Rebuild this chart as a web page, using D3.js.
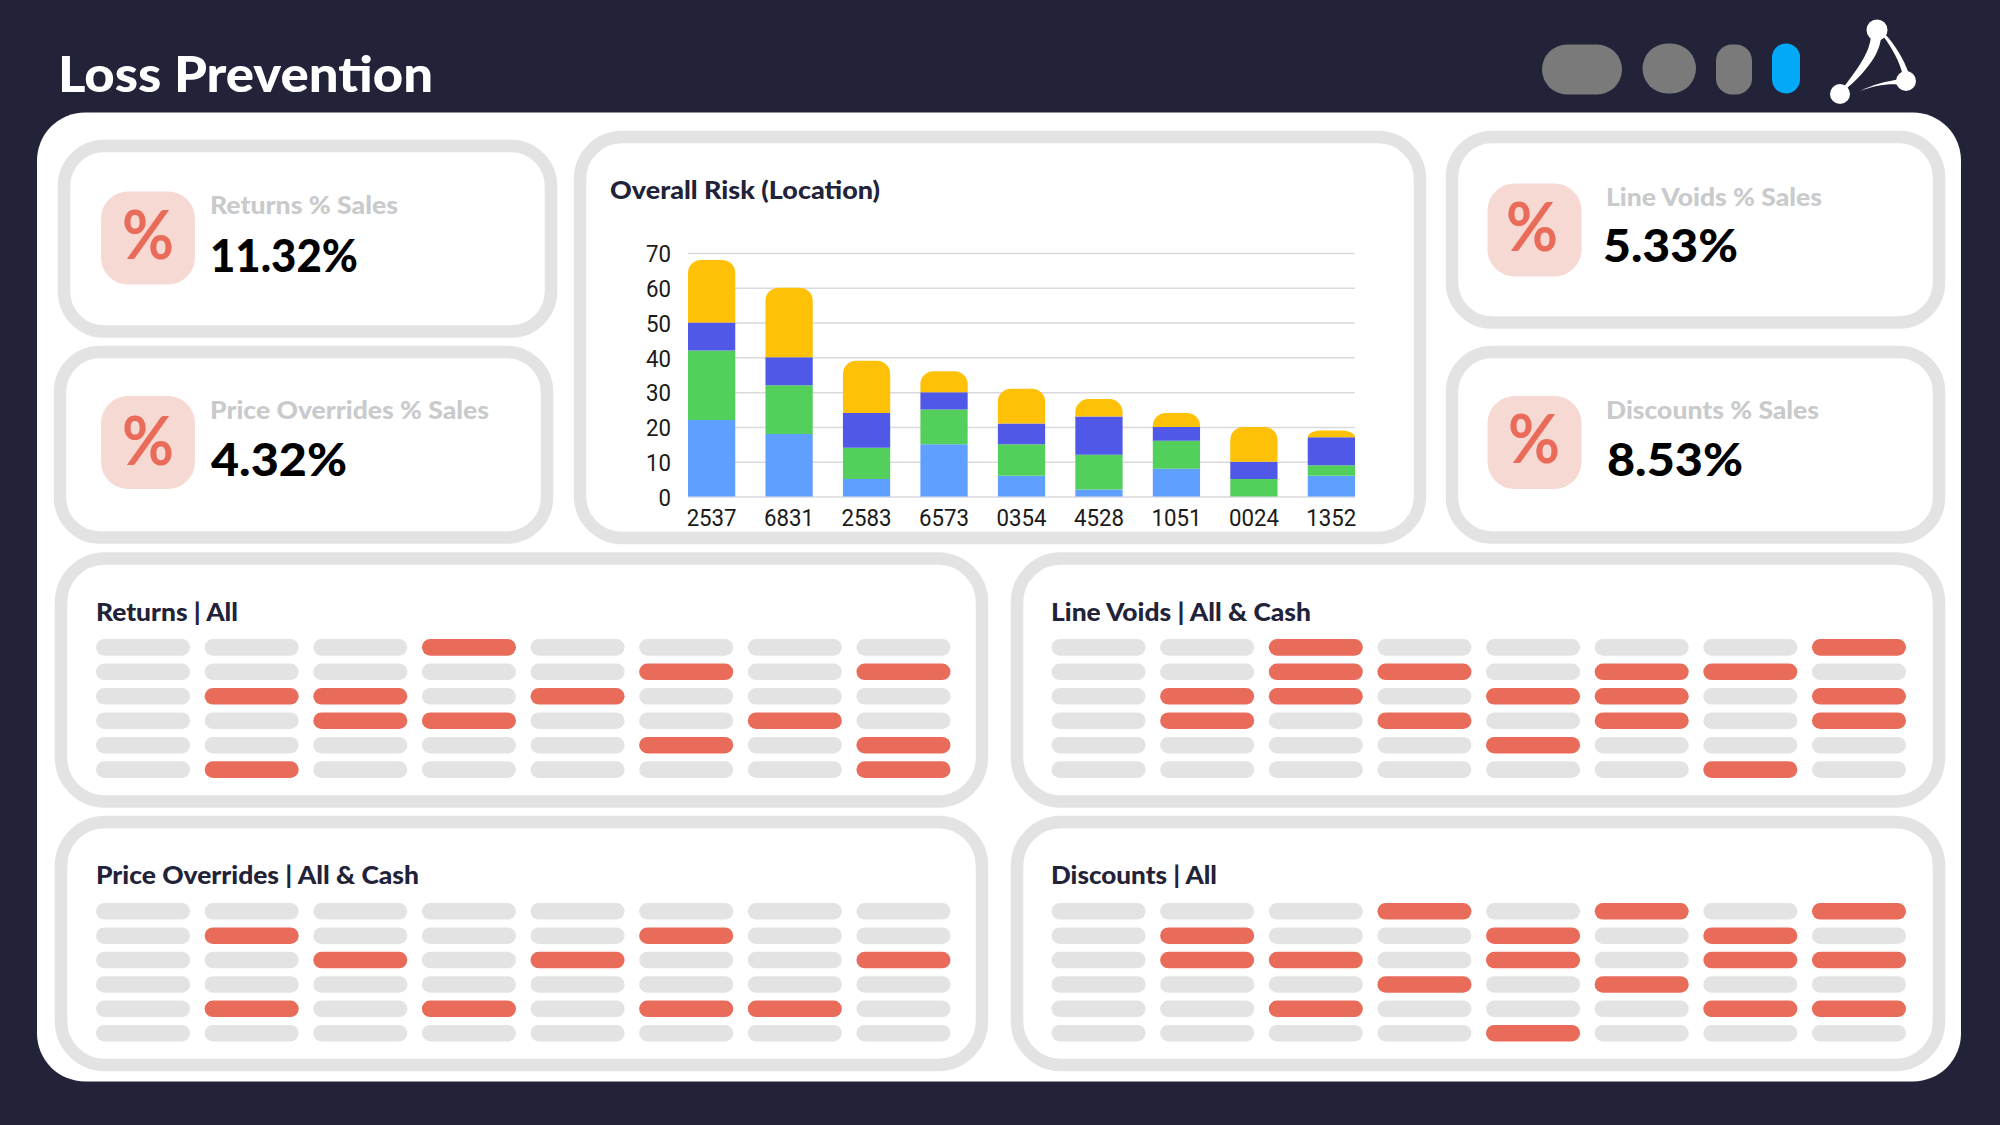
<!DOCTYPE html>
<html>
<head>
<meta charset="utf-8">
<title>Loss Prevention</title>
<style>
  html, body { margin: 0; padding: 0; background: #222238; }
  svg { display: block; }
  .tick text { font-family: "Roboto", sans-serif; font-size: 23.5px; fill: #1a1a1a; }
</style>
</head>
<body>
<svg></svg>
<script src="https://d3js.org/d3.v7.min.js"></script>
<script>
// ---- data ----
var kpiLabels = ["Returns % Sales", "Price Overrides % Sales", "Line Voids % Sales", "Discounts % Sales"];
var kpiValues = ["11.32%", "4.32%", "5.33%", "8.53%"];

var locations = ["2537", "6831", "2583", "6573", "0354", "4528", "1051", "0024", "1352"];
var riskKeys = ["a", "b", "c", "d"];
var riskA = [22, 18, 5, 15, 6, 2, 8, 0, 6];
var riskB = [20, 14, 9, 10, 9, 10, 8, 5, 3];
var riskC = [8, 8, 10, 5, 6, 11, 4, 5, 8];
var riskD = [18, 20, 15, 6, 10, 5, 4, 10, 2];
var riskTicks = [0, 10, 20, 30, 40, 50, 60, 70];

var gridTitles = ["Returns | All", "Line Voids | All & Cash", "Price Overrides | All & Cash", "Discounts | All"];
var returnsFlags = [
  [0,0,0,1,0,0,0,0],
  [0,0,0,0,0,1,0,1],
  [0,1,1,0,1,0,0,0],
  [0,0,1,1,0,0,1,0],
  [0,0,0,0,0,1,0,1],
  [0,1,0,0,0,0,0,1]
];
var lineVoidFlags = [
  [0,0,1,0,0,0,0,1],
  [0,0,1,1,0,1,1,0],
  [0,1,1,0,1,1,0,1],
  [0,1,0,1,0,1,0,1],
  [0,0,0,0,1,0,0,0],
  [0,0,0,0,0,0,1,0]
];
var overrideFlags = [
  [0,0,0,0,0,0,0,0],
  [0,1,0,0,0,1,0,0],
  [0,0,1,0,1,0,0,1],
  [0,0,0,0,0,0,0,0],
  [0,1,0,1,0,1,1,0],
  [0,0,0,0,0,0,0,0]
];
var discountFlags = [
  [0,0,0,1,0,1,0,1],
  [0,1,0,0,1,0,1,0],
  [0,1,1,0,1,0,1,1],
  [0,0,0,1,0,1,0,0],
  [0,0,1,0,0,0,1,1],
  [0,0,0,0,1,0,0,0]
];

// ---- colours ----
var navy = "#222238", line = "#e3e3e3", red = "#e96c5a", pink = "#f7d9d4", soft = "#c9cacc";
var riskColor = { a: "#5f9fff", b: "#53cf5b", c: "#5058e8", d: "#ffc008" };

var svg = d3.select("svg").attr("width", 2000).attr("height", 1125);
svg.append("rect").attr("width", 2000).attr("height", 1125).attr("fill", navy);

// main white panel
svg.append("rect").attr("x", 37).attr("y", 112.5).attr("width", 1924).attr("height", 969)
  .attr("rx", 48).attr("fill", "#fff");

// stretch a text to the width it has in the picture
function put(str, x, y, w, size, fill, weight) {
  return svg.append("text").text(str)
    .attr("x", x).attr("y", y)
    .attr("font-family", "Lato, sans-serif")
    .attr("font-size", size).attr("font-weight", weight).attr("fill", fill)
    .attr("textLength", w).attr("lengthAdjust", "spacingAndGlyphs");
}

function card(x0, y0, x1, y1, r) {
  svg.append("rect")
    .attr("x", x0 + 6).attr("y", y0 + 6)
    .attr("width", x1 - x0 - 12).attr("height", y1 - y0 - 12)
    .attr("rx", r).attr("fill", "#fff")
    .attr("stroke", line).attr("stroke-width", 12.5);
}

// ---- header ----
put("Loss Prevention", 58, 91.5, 375, 49, "#fff", 900);

var pills = [[1542, 44.5, 80, 50, 25, "#7a7a7a"], [1642.5, 43.5, 53.5, 50, 25, "#7a7a7a"],
             [1716, 44.5, 36, 50, 16, "#7a7a7a"], [1772, 43.5, 28, 50, 14, "#02a9f7"]];
svg.selectAll(".pill").data(pills).enter().append("rect")
  .attr("class", "pill")
  .attr("x", function(d) { return d[0]; }).attr("y", function(d) { return d[1]; })
  .attr("width", function(d) { return d[2]; }).attr("height", function(d) { return d[3]; })
  .attr("rx", function(d) { return d[4]; }).attr("fill", function(d) { return d[5]; });

// logo
var logo = svg.append("g").attr("fill", "#fff");
[[1877, 30, 10.5], [1906, 81, 10], [1840, 94, 10]].forEach(function(c) {
  logo.append("circle").attr("cx", c[0]).attr("cy", c[1]).attr("r", c[2]);
});
logo.append("path").attr("d", "M1871,34 C1871,50 1860,66 1843,88 L1845,90 C1866,72 1882,52 1881,34 Z");
logo.append("path").attr("d", "M1883,36 C1892,48 1900,62 1903,76 L1909,74 C1904,60 1896,46 1885,34 Z");
logo.append("path").attr("d", "M1860,91 C1872,85 1886,81 1902,79 L1904,85 C1888,83 1874,86 1860,91 Z");

// ---- kpi cards ----
var kpiBoxes = [
  { box: [58, 140, 557, 337.5], icon: [101, 191.5], gx: 122, gy: 259, lx: 210, ly: 214, lw: 188, vx: 210, vy: 271.5, vw: 148 },
  { box: [54, 346, 553, 543.5], icon: [101, 396], gx: 122, gy: 465, lx: 210, ly: 419, lw: 279, vx: 211, vy: 476, vw: 136 },
  { box: [1446, 131, 1945, 328.5], icon: [1487.5, 183.5], gx: 1506, gy: 251, lx: 1606, ly: 206, lw: 216, vx: 1603, vy: 261.5, vw: 135 },
  { box: [1446, 346, 1945, 543.5], icon: [1487.5, 396], gx: 1508, gy: 463, lx: 1606, ly: 419, lw: 213, vx: 1607, vy: 476, vw: 136 }
];
kpiBoxes.forEach(function(k, i) {
  card(k.box[0], k.box[1], k.box[2], k.box[3], 40);
  svg.append("rect").attr("x", k.icon[0]).attr("y", k.icon[1])
    .attr("width", 94).attr("height", 93).attr("rx", 27).attr("fill", pink);
  put("%", k.gx, k.gy, 52, 66, red, 700);
  put(kpiLabels[i], k.lx, k.ly, k.lw, 24, soft, 900);
  put(kpiValues[i], k.vx, k.vy, k.vw, 45, "#000", 900);
});

// ---- overall risk chart ----
card(574, 131, 1426, 544, 42);
put("Overall Risk (Location)", 610, 199, 270, 25, navy, 900);

var rows = locations.map(function(loc, i) {
  return { loc: loc, a: riskA[i], b: riskB[i], c: riskC[i], d: riskD[i] };
});
var x = d3.scaleBand().domain(locations).range([688, 1355]).paddingInner(0.39).paddingOuter(0);
var y = d3.scaleLinear().domain([0, 70]).range([496.5, 253]);
var stack = d3.stack().keys(riskKeys)(rows);

var yAxis = svg.append("g").attr("transform", "translate(688,0)")
  .call(d3.axisLeft(y).tickValues(riskTicks).tickSize(-667).tickPadding(17));
yAxis.select(".domain").remove();
yAxis.selectAll("line").attr("stroke", "#d9d9de").attr("stroke-width", 1.5);
yAxis.selectAll("text").attr("dy", "0.37em");

var xAxis = svg.append("g").attr("transform", "translate(0,496.5)")
  .call(d3.axisBottom(x).tickSize(0).tickPadding(13));
xAxis.select(".domain").remove();

// tick digits are a little narrower than the Roboto default
svg.selectAll(".tick text")
  .attr("textLength", function() { return this.textContent.length * 12.5; })
  .attr("lengthAdjust", "spacingAndGlyphs");

function topRound(bx, bw, y0, y1) {
  var h = y0 - y1, rx = 13, ry = Math.min(13, h);
  return "M" + bx + "," + y0 + "V" + (y1 + ry) +
    "A" + rx + "," + ry + " 0 0 1 " + (bx + rx) + "," + y1 +
    "H" + (bx + bw - rx) +
    "A" + rx + "," + ry + " 0 0 1 " + (bx + bw) + "," + (y1 + ry) +
    "V" + y0 + "Z";
}
svg.selectAll(".layer").data(stack).enter().append("g")
  .attr("class", "layer")
  .attr("fill", function(s) { return riskColor[s.key]; })
  .selectAll("path").data(function(s) { return s.map(function(p) { p.key = s.key; return p; }); })
  .enter().append("path")
  .attr("d", function(p) {
    var bx = x(p.data.loc), bw = x.bandwidth();
    if (p.key === "d") return topRound(bx, bw, y(p[0]), y(p[1]));
    return "M" + bx + "," + y(p[0]) + "H" + (bx + bw) + "V" + y(p[1]) + "H" + bx + "Z";
  });

// ---- flag grids ----
var gridBoxes = [
  { box: [55, 552.5, 988, 807.5], tx: 96, ty: 620.5, tw: 142, cols: [96, 950.5], rows: [639, 778] },
  { box: [1011, 552.5, 1945, 807.5], tx: 1051, ty: 620.5, tw: 260, cols: [1051.5, 1906], rows: [639, 778] },
  { box: [55, 816, 988, 1071], tx: 96, ty: 884, tw: 323, cols: [96, 950.5], rows: [903, 1041.5] },
  { box: [1011, 816, 1945, 1071], tx: 1051, ty: 884, tw: 166, cols: [1051.5, 1906], rows: [903, 1041.5] }
];
[returnsFlags, lineVoidFlags, overrideFlags, discountFlags].forEach(function(flags, i) {
  var g = gridBoxes[i];
  card(g.box[0], g.box[1], g.box[2], g.box[3], 44);
  put(gridTitles[i], g.tx, g.ty, g.tw, 25, navy, 900);

  var cx = d3.scaleBand().domain(d3.range(8)).range(g.cols).paddingInner(0.134).paddingOuter(0);
  var cy = d3.scaleBand().domain(d3.range(6)).range(g.rows).paddingInner(0.32).paddingOuter(0);
  svg.append("g").selectAll("g").data(flags).enter().append("g")
    .attr("transform", function(r, ri) { return "translate(0," + cy(ri) + ")"; })
    .selectAll("rect").data(function(r) { return r; }).enter().append("rect")
    .attr("x", function(v, ci) { return cx(ci); })
    .attr("width", cx.bandwidth()).attr("height", cy.bandwidth())
    .attr("rx", cy.bandwidth() / 2)
    .attr("fill", function(v) { return v ? red : line; });
});
</script>
</body>
</html>
